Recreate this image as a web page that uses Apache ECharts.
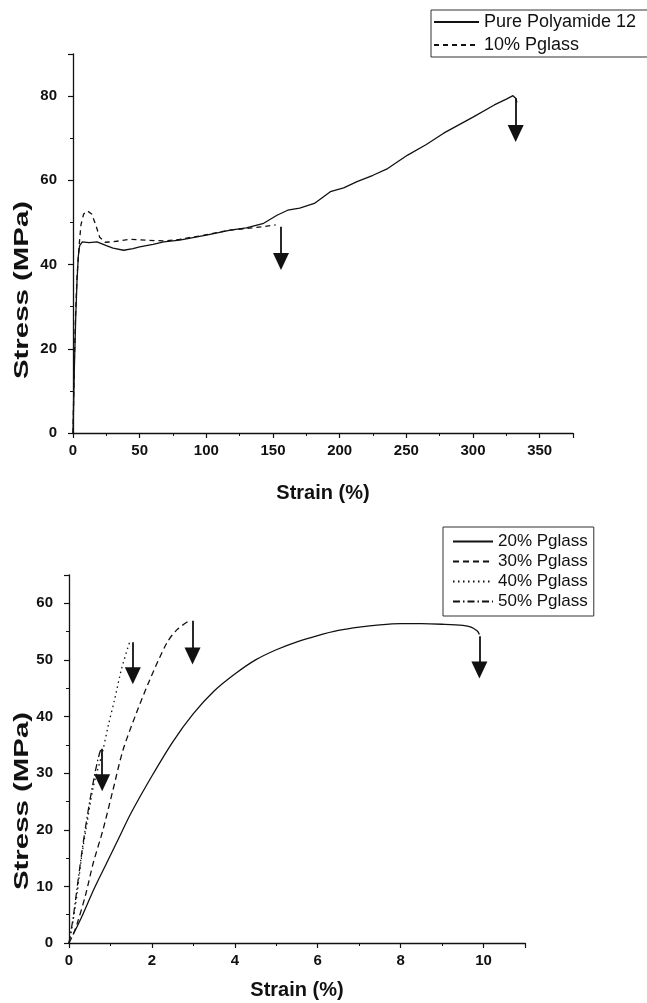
<!DOCTYPE html>
<html>
<head>
<meta charset="utf-8">
<script src="https://cdn.jsdelivr.net/npm/echarts@6/dist/echarts.min.js"></script>
<style>
    html, body { margin: 0; padding: 0; background: #fff; }
    #main { width: 647px; height: 1003px; }
</style>
</head>
<body>
<div id="main"></div>
<script>
// 上图数据：纯PA12 与 10% Pglass
var pa12Strain = [0, 1, 2, 3, 4, 5, 7, 12, 18, 25, 30, 38, 45, 50, 60, 68, 80, 100, 118, 130, 143, 153, 161, 170, 181, 193, 203, 213, 225, 236, 251, 265, 278, 289, 300, 316, 325, 330, 332, 333];
var pa12Stress = [0, 15, 27, 36, 42, 44.5, 45.4, 45.2, 45.4, 44.5, 43.9, 43.4, 43.8, 44.2, 44.8, 45.4, 45.8, 47, 48.2, 48.7, 49.8, 51.7, 52.9, 53.4, 54.5, 57.3, 58.2, 59.7, 61.2, 62.8, 66, 68.5, 71.2, 73.1, 75, 77.9, 79.3, 80.1, 79.5, 78.5];
var pg10Strain = [0, 1, 2, 3, 4, 5, 6, 8, 11, 14, 17, 20, 24, 30, 43, 55, 68, 80, 95, 118, 135, 152];
var pg10Stress = [0, 17, 29, 37, 42, 46, 49.5, 52, 52.7, 52, 49.5, 46.5, 45.3, 45.4, 46, 45.8, 45.6, 46, 46.8, 48.2, 48.7, 49.4];

// 下图数据：20%-50% Pglass
var pg20Strain = [0.1, 0.3, 0.6, 0.9, 1.2, 1.5, 2, 2.5, 3, 3.5, 4, 4.5, 5, 5.5, 6, 6.5, 7, 7.5, 8, 8.5, 9, 9.5, 9.7, 9.85, 9.9];
var pg20Stress = [1.5, 4.5, 9.5, 14, 18.5, 23, 29.5, 35.5, 40.5, 44.5, 47.5, 50, 51.8, 53.2, 54.3, 55.2, 55.8, 56.2, 56.4, 56.4, 56.3, 56.1, 55.8, 55.1, 54.5];
var pg30Strain = [0, 0.1, 0.2, 0.4, 0.58, 0.82, 1.06, 1.3, 1.63, 1.95, 2.36, 2.6, 2.87];
var pg30Stress = [0, 1.5, 3.5, 8.5, 14, 20, 27, 34, 40.7, 46.5, 53, 55.3, 56.8];
var pg40Strain = [0, 0.1, 0.2, 0.3, 0.43, 0.59, 0.8, 0.95, 1.1, 1.27, 1.47];
var pg40Stress = [0, 4, 9, 15, 21, 27.7, 33.5, 38.5, 43, 48.5, 53.3];
var pg50Strain = [0, 0.1, 0.2, 0.3, 0.4, 0.5, 0.6, 0.7, 0.78];
var pg50Stress = [0, 4.5, 10, 15.5, 20.5, 25, 29, 32.5, 34.5];

// 断裂点箭头
var topArrowStrain = [156, 332];
var topArrowFrom = [49, 79.5];
var topArrowTo = [40.7, 71.1];
var botArrowStrain = [0.8, 1.54, 2.98, 9.9];
var botArrowFrom = [34.3, 53.1, 56.9, 54.2];
var botArrowTo = [28.3, 47.2, 50.7, 48.2];

// 刻度
var topXTicks = { min: 0, max: 375, interval: 50 };
var topYTicks = { min: 0, max: 90, interval: 20 };
var botXTicks = { min: 0, max: 11, interval: 2 };
var botYTicks = { min: 0, max: 65, interval: 10 };

var ink = "#111";
var fontName = '"Liberation Sans", Arial, sans-serif';

function zip(xs, ys) {
    return xs.map(function (x, i) { return [x, ys[i]]; });
}

function arrows(xs, from, to) {
    return xs.map(function (x, i) {
        return [{ coord: [x, from[i]] }, { coord: [x, to[i]] }];
    });
}

function valueAxis(ticks, gridIndex, labelMargin) {
    return {
        type: 'value',
        gridIndex: gridIndex,
        min: ticks.min,
        max: ticks.max,
        interval: ticks.interval,
        axisLine: { show: true, onZero: false, lineStyle: { color: ink, width: 1.3 } },
        axisTick: { show: true, inside: false, length: 5, lineStyle: { color: ink, width: 1.2 } },
        minorTick: { show: true, splitNumber: 2, length: 3, lineStyle: { color: ink, width: 1 } },
        splitLine: { show: false },
        axisLabel: {
            show: true,
            margin: labelMargin,
            color: ink,
            fontSize: 15,
            fontWeight: 'bold',
            fontFamily: fontName,
            showMaxLabel: false
        }
    };
}

function lineSeries(name, data, type, xi, extra) {
    var s = {
        name: name,
        type: 'line',
        xAxisIndex: xi,
        yAxisIndex: xi,
        data: data,
        symbol: 'none',
        showSymbol: false,
        smooth: xi === 1 ? 0.3 : false,
        lineStyle: { color: ink, width: 1.3, type: type },
        itemStyle: { color: ink },
        emphasis: { disabled: true }
    };
    if (extra) s.markLine = extra;
    return s;
}

function arrowMark(data) {
    return {
        silent: true,
        animation: false,
        symbol: ['none', 'triangle'],
        symbolSize: [16, 17],
        label: { show: false },
        lineStyle: { color: ink, width: 1.8, type: 'solid' },
        emphasis: { disabled: true },
        data: data
    };
}

var myChart = echarts.init(document.getElementById('main'));

var xTop = valueAxis(topXTicks, 0, 10);
xTop.name = 'Strain (%)';
xTop.nameLocation = 'middle';
xTop.nameGap = 50;
xTop.nameTextStyle = { color: ink, fontSize: 20, fontWeight: 'bold', fontFamily: fontName };

var xBot = valueAxis(botXTicks, 1, 10);
xBot.name = 'Strain (%)';
xBot.nameLocation = 'middle';
xBot.nameGap = 37;
xBot.nameTextStyle = { color: ink, fontSize: 20, fontWeight: 'bold', fontFamily: fontName };

var yTop = valueAxis(topYTicks, 0, 16);
var yBot = valueAxis(botYTicks, 1, 16);

function yTitle(cy) {
    return {
        type: 'text',
        x: 22,
        y: cy,
        rotation: Math.PI / 2,
        scaleX: 1.4,
        style: {
            text: 'Stress (MPa)',
            font: 'bold 21px ' + fontName,
            fill: ink,
            align: 'center',
            verticalAlign: 'middle'
        }
    };
}

var option = {
    animation: false,
    backgroundColor: '#fff',
    grid: [
        { left: 73, top: 54, width: 500, height: 379, containLabel: false },
        { left: 69, top: 575, width: 456, height: 368, containLabel: false }
    ],
    xAxis: [xTop, xBot],
    yAxis: [yTop, yBot],
    legend: [
        {
            orient: 'vertical',
            left: 431,
            top: 10,
            padding: [3, 16, 3, 2],
            itemGap: 5,
            itemWidth: 45,
            itemHeight: 14,
            itemStyle: { opacity: 0 },
            borderColor: '#333',
            borderWidth: 1,
            textStyle: { color: ink, fontSize: 18, fontFamily: fontName },
            data: ['Pure Polyamide 12', '10% Pglass']
        },
        {
            orient: 'vertical',
            left: 443,
            top: 527,
            padding: [6, 6, 6, 9],
            itemGap: 3,
            itemWidth: 40,
            itemHeight: 14,
            itemStyle: { opacity: 0 },
            borderColor: '#333',
            borderWidth: 1,
            textStyle: { color: ink, fontSize: 17, fontFamily: fontName },
            data: ['20% Pglass', '30% Pglass', '40% Pglass', '50% Pglass']
        }
    ],
    graphic: [yTitle(290), yTitle(801)],
    series: [
        lineSeries('Pure Polyamide 12', zip(pa12Strain, pa12Stress), 'solid', 0,
            arrowMark(arrows(topArrowStrain, topArrowFrom, topArrowTo))),
        lineSeries('10% Pglass', zip(pg10Strain, pg10Stress), [5, 4], 0),
        lineSeries('20% Pglass', zip(pg20Strain, pg20Stress), 'solid', 1,
            arrowMark(arrows(botArrowStrain, botArrowFrom, botArrowTo))),
        lineSeries('30% Pglass', zip(pg30Strain, pg30Stress), [6, 4], 1),
        lineSeries('40% Pglass', zip(pg40Strain, pg40Stress), [1.5, 3.5], 1),
        lineSeries('50% Pglass', zip(pg50Strain, pg50Stress), [7, 3, 1.5, 3], 1)
    ]
};

myChart.setOption(option);
window.addEventListener('resize', function () {
    myChart.resize();
});
</script>
</body>
</html>
